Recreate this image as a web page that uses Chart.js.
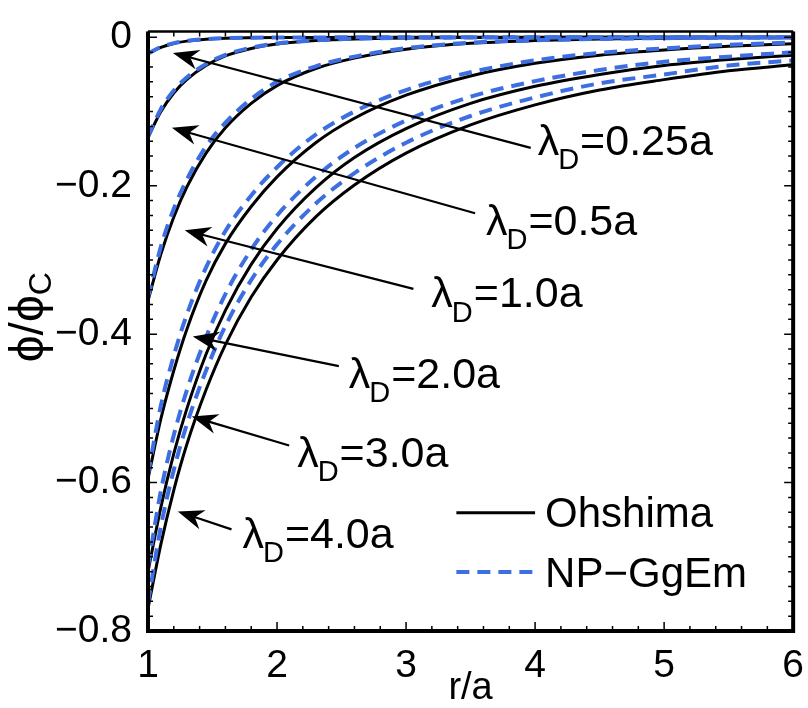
<!DOCTYPE html>
<html>
<head>
<meta charset="utf-8">
<script src="https://cdn.jsdelivr.net/npm/chart.js@4.4.1/dist/chart.umd.min.js"></script>
<style>
  html, body { margin: 0; padding: 0; background: #fff; }
  #wrap { width: 808px; height: 708px; }
</style>
</head>
<body>
<div id="wrap"><canvas id="potentialChart" width="808" height="708"></canvas></div>
<script>
// r/a sample positions shared by every curve
const rValues = [1, 1.1, 1.2, 1.3, 1.45, 1.6, 1.8, 2, 2.3, 2.6, 3, 3.5, 4, 4.5, 5, 5.5, 6];

// Ohshima (black solid)
const ohshima025 = [-0.022, -0.0134, -0.0082, -0.0051, -0.0025, -0.0012, -0.0005, -0.0002, -0.0001, 0, 0, 0, 0, 0, 0, 0, 0];
const ohshima05 = [-0.135, -0.100, -0.075, -0.057, -0.038, -0.025, -0.015, -0.009, -0.0044, -0.0021, -0.0008, -0.0003, -0.0001, 0, 0, 0, 0];
const ohshima1 = [-0.355, -0.292, -0.242, -0.202, -0.156, -0.122, -0.089, -0.065, -0.042, -0.028, -0.016, -0.008, -0.0044, -0.0024, -0.0013, -0.0007, -0.0004];
const ohshima2 = [-0.595, -0.514, -0.449, -0.394, -0.328, -0.278, -0.228, -0.188, -0.142, -0.109, -0.078, -0.052, -0.035, -0.024, -0.017, -0.012, -0.0085];
const ohshima3 = [-0.720, -0.633, -0.561, -0.501, -0.427, -0.368, -0.306, -0.258, -0.203, -0.162, -0.123, -0.089, -0.066, -0.050, -0.038, -0.030, -0.024];
const ohshima4 = [-0.770, -0.683, -0.610, -0.549, -0.475, -0.414, -0.350, -0.300, -0.242, -0.199, -0.156, -0.118, -0.091, -0.071, -0.057, -0.045, -0.037];

// NP-GgEm (blue dashed)
const ggem025 = [-0.0218, -0.0129, -0.0078, -0.0048, -0.0024, -0.0011, -0.0005, -0.0002, -0.0001, 0, 0, 0, 0, 0, 0, 0, 0];
const ggem05 = [-0.134, -0.0965, -0.0716, -0.0542, -0.0359, -0.0235, -0.014, -0.0084, -0.0041, -0.0019, -0.0007, -0.0003, -0.0001, 0, 0, 0, 0];
const ggem1 = [-0.351, -0.282, -0.231, -0.192, -0.147, -0.115, -0.083, -0.060, -0.039, -0.026, -0.0146, -0.0072, -0.0039, -0.0021, -0.0011, -0.0006, -0.0003];
const ggem2 = [-0.589, -0.496, -0.429, -0.374, -0.310, -0.261, -0.213, -0.175, -0.131, -0.100, -0.071, -0.047, -0.031, -0.021, -0.015, -0.010, -0.007];
const ggem3 = [-0.713, -0.611, -0.536, -0.476, -0.404, -0.346, -0.286, -0.240, -0.188, -0.149, -0.112, -0.080, -0.059, -0.044, -0.033, -0.026, -0.020];
const ggem4 = [-0.762, -0.659, -0.583, -0.522, -0.449, -0.389, -0.327, -0.279, -0.224, -0.183, -0.142, -0.106, -0.081, -0.062, -0.050, -0.038, -0.031];

// tick labels
const xTicks = [1, 2, 3, 4, 5, 6];
const yTicks = [-0.8, -0.6, -0.4, -0.2, 0];

// lambda_D labels with arrows (tail -> tip), in data units
const lambdaLabels = ["0.25a", "0.5a", "1.0a", "2.0a", "3.0a", "4.0a"];
const arrowTips = [[1.193, -0.021], [1.185, -0.122], [1.285, -0.260], [1.347, -0.403], [1.339, -0.511], [1.231, -0.639]];
const arrowTails = [[3.966, -0.149], [3.535, -0.237], [3.057, -0.339], [2.479, -0.443], [2.094, -0.550], [1.647, -0.663]];
const labelAnchors = [[4.02, -0.143], [3.619, -0.250], [3.196, -0.348], [2.556, -0.456], [2.156, -0.563], [1.732, -0.672]];

const BLUE = "#3d6fe3";
const FONT = "'Liberation Sans', Arial, Helvetica, sans-serif";

function toPoints(vals) {
  return rValues.map((r, i) => ({ x: r, y: vals[i] }));
}

const ohshimaSets = [ohshima025, ohshima05, ohshima1, ohshima2, ohshima3, ohshima4];
const ggemSets = [ggem025, ggem05, ggem1, ggem2, ggem3, ggem4];

const datasets = [];
ohshimaSets.forEach((vals, i) => {
  datasets.push({
    label: "Ohshima " + lambdaLabels[i],
    data: toPoints(vals),
    borderColor: "#000",
    borderWidth: 3,
    pointRadius: 0,
    cubicInterpolationMode: "monotone",
    order: 1,
  });
});
ggemSets.forEach((vals, i) => {
  datasets.push({
    label: "NP-GgEm " + lambdaLabels[i],
    data: toPoints(vals),
    borderColor: BLUE,
    borderWidth: 4,
    borderDash: [13, 8],
    pointRadius: 0,
    cubicInterpolationMode: "monotone",
    order: 0,
  });
});

// arrow with filled, notched head
function drawArrow(ctx, x0, y0, x1, y1) {
  const ang = Math.atan2(y1 - y0, x1 - x0);
  const len = 26, half = 10;
  const bx = x1 - len * Math.cos(ang), by = y1 - len * Math.sin(ang);
  ctx.beginPath();
  ctx.moveTo(x0, y0);
  ctx.lineTo(x1 - 16 * Math.cos(ang), y1 - 16 * Math.sin(ang));
  ctx.lineWidth = 2.2;
  ctx.stroke();
  ctx.beginPath();
  ctx.moveTo(x1, y1);
  ctx.lineTo(bx - half * Math.sin(ang), by + half * Math.cos(ang));
  ctx.lineTo(x1 - 18 * Math.cos(ang), y1 - 18 * Math.sin(ang));
  ctx.lineTo(bx + half * Math.sin(ang), by - half * Math.cos(ang));
  ctx.closePath();
  ctx.fill();
}

function drawLambda(ctx, x, y, value) {
  ctx.textBaseline = "middle";
  ctx.textAlign = "left";
  ctx.font = "43px " + FONT;
  ctx.fillText("λ", x, y);
  let w = ctx.measureText("λ").width;
  ctx.font = "29px " + FONT;
  ctx.fillText("D", x + w - 1, y + 18);
  w += ctx.measureText("D").width;
  ctx.font = "43px " + FONT;
  ctx.fillText("=" + value, x + w, y);
}

const annotations = {
  id: "annotations",
  afterDatasetsDraw(chart) {
    const { ctx, scales: { x, y } } = chart;
    ctx.save();
    ctx.fillStyle = "#000";
    ctx.strokeStyle = "#000";
    lambdaLabels.forEach((lab, i) => {
      drawArrow(ctx,
        x.getPixelForValue(arrowTails[i][0]), y.getPixelForValue(arrowTails[i][1]),
        x.getPixelForValue(arrowTips[i][0]), y.getPixelForValue(arrowTips[i][1]));
      drawLambda(ctx, x.getPixelForValue(labelAnchors[i][0]), y.getPixelForValue(labelAnchors[i][1]), lab);
    });

    // legend
    const lx0 = x.getPixelForValue(3.39), lx1 = x.getPixelForValue(4.0);
    const ly1 = y.getPixelForValue(-0.6405), ly2 = y.getPixelForValue(-0.7205);
    ctx.lineWidth = 3;
    ctx.beginPath(); ctx.moveTo(lx0, ly1); ctx.lineTo(lx1, ly1); ctx.stroke();
    ctx.strokeStyle = BLUE;
    ctx.lineWidth = 4;
    ctx.setLineDash([13, 8]);
    ctx.beginPath(); ctx.moveTo(lx0, ly2); ctx.lineTo(lx1, ly2); ctx.stroke();
    ctx.setLineDash([]);
    ctx.font = "42px " + FONT;
    ctx.textBaseline = "middle";
    ctx.textAlign = "left";
    ctx.fillText("Ohshima", lx1 + 10, ly1 + 3);
    ctx.fillText("NP−GgEm", lx1 + 10, ly2 + 3);
    ctx.restore();
  },
  afterDraw(chart) {
    const { ctx, chartArea: a, scales: { x, y } } = chart;
    ctx.save();
    ctx.strokeStyle = "#000";
    // ticks on all four sides, pointing inward
    ctx.lineWidth = 1.5;
    ctx.beginPath();
    for (let i = 0; i <= 25; i++) {
      const px = x.getPixelForValue(1 + i * 0.2);
      const len = i % 5 === 0 ? 9 : 5;
      ctx.moveTo(px, a.bottom); ctx.lineTo(px, a.bottom - len);
      ctx.moveTo(px, a.top); ctx.lineTo(px, a.top + len);
    }
    for (let i = 0; i <= 40; i++) {
      const py = y.getPixelForValue(-0.8 + i * 0.02);
      const len = i % 10 === 0 ? 9 : 5;
      ctx.moveTo(a.left, py); ctx.lineTo(a.left + len, py);
      ctx.moveTo(a.right, py); ctx.lineTo(a.right - len, py);
    }
    ctx.stroke();
    // frame
    ctx.lineWidth = 4;
    ctx.beginPath();
    ctx.moveTo(a.left, a.top); ctx.lineTo(a.left, a.bottom);
    ctx.lineTo(a.right, a.bottom); ctx.lineTo(a.right, a.top);
    ctx.stroke();
    ctx.lineWidth = 2.5;
    ctx.beginPath(); ctx.moveTo(a.left, a.top); ctx.lineTo(a.right, a.top); ctx.stroke();

    // y title: phi/phi_C
    ctx.translate(30, (a.top + a.bottom) / 2 - 14);
    ctx.rotate(-Math.PI / 2);
    ctx.fillStyle = "#000";
    ctx.textBaseline = "middle";
    ctx.textAlign = "left";
    const main = "ϕ/ϕ";
    ctx.font = "32px " + FONT;
    const subW = ctx.measureText("C").width;
    ctx.font = "48px " + FONT;
    const mainW = ctx.measureText(main).width;
    const start = -(mainW + subW) / 2;
    ctx.fillText(main, start, 0);
    ctx.font = "32px " + FONT;
    ctx.fillText("C", start + mainW, 12);
    ctx.restore();
  },
};

const ctx = document.getElementById("potentialChart").getContext("2d");
const potentialChart = new Chart(ctx, {
  type: "line",
  data: { datasets: datasets },
  options: {
    responsive: false,
    animation: false,
    devicePixelRatio: 1,
    layout: { padding: { top: 13, right: 11, left: 0, bottom: 0 } },
    plugins: { legend: { display: false }, tooltip: { enabled: false } },
    scales: {
      x: {
        type: "linear",
        min: 1,
        max: 6,
        afterBuildTicks: (scale) => { scale.ticks = xTicks.map((v) => ({ value: v })); },
        afterFit: (scale) => { scale.height = 77; },
        grid: { display: false },
        border: { display: false },
        ticks: {
          color: "#000",
          font: { family: FONT, size: 39 },
          padding: 4,
          maxRotation: 0,
          callback: (v) => String(v),
        },
        title: {
          display: true,
          text: "r/a",
          color: "#000",
          font: { family: FONT, size: 38, lineHeight: 1 },
          padding: { top: 0, bottom: 0 },
        },
      },
      y: {
        type: "linear",
        min: -0.8,
        max: 0.008,
        afterBuildTicks: (scale) => { scale.ticks = yTicks.map((v) => ({ value: v })); },
        afterFit: (scale) => { scale.width = 148; },
        grid: { display: false },
        border: { display: false },
        ticks: {
          color: "#000",
          font: { family: FONT, size: 39 },
          padding: 8,
          callback: (v) => (v === 0 ? "0" : "−" + Math.abs(v).toFixed(1)),
        },
      },
    },
  },
  plugins: [annotations],
});
</script>
</body>
</html>
